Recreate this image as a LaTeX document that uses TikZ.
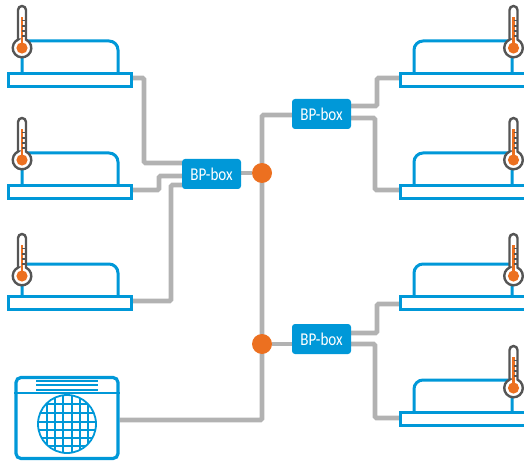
\documentclass[tikz,border=0pt]{standalone}
\usepackage{fontspec}
\setmainfont{Carlito}
\newfontfamily\boxfont[FakeStretch=0.84]{Carlito}
\usetikzlibrary{positioning, calc, backgrounds}
\definecolor{unitblue}{RGB}{0, 152, 216}
\definecolor{pipegray}{RGB}{178, 178, 178}
\definecolor{dotorange}{RGB}{236, 112, 32}
\definecolor{thermogray}{RGB}{85, 85, 85}
\tikzset{
  pipe/.style={draw=pipegray, line width=4.8pt, rounded corners=1.5pt},
  bpbox/.style={fill=unitblue, text=white, rounded corners=3pt, minimum width=59pt, minimum height=30pt, inner sep=0pt, font=\boxfont\fontsize{18}{18}\selectfont},
  joint/.style={circle, fill=dotorange, minimum size=20pt, inner sep=0pt},
  unitline/.style={draw=unitblue, line width=3pt},
  thermometer/.pic={
    \draw[draw=thermogray, fill=white, line width=2.4pt] (-4,8.4) -- (-4,38) arc[start angle=180, end angle=0, radius=4] -- (4,8.4) arc[start angle=64.6, end angle=-244.6, radius=9.3] -- cycle;
    \draw[draw=dotorange, line width=2.4pt] (0,0) -- (0,31);
    \fill[dotorange] (0,0) circle[radius=5.6];
    \foreach \t in {27.4,22,17,12} \draw[draw=thermogray, line width=1.5pt] (0,\t) -- (4,\t);
  },
  indoorleft/.pic={
    \node[unitline, fill=white, minimum width=123pt, minimum height=13pt, inner sep=0pt] (-base) at (63,0) {};
    \draw[unitline] (15,6) -- (15,39) -- (102,39) arc[start angle=90, end angle=0, radius=9] -- (111,6);
  },
  indoorright/.pic={
    \node[unitline, fill=white, minimum width=126pt, minimum height=13pt, inner sep=0pt] (-base) at (63.5,0) {};
    \draw[unitline] (112,6) -- (112,39) -- (23,39) arc[start angle=90, end angle=180, radius=9] -- (14,6);
  }
}

\begin{document}
\begin{tikzpicture}[x=1pt, y=1pt]
  \useasboundingbox (0,0) rectangle (524,461);
  % left units
  \pic (unitA) at (7,381) {indoorleft};
  \pic (unitB) at (7,269) {indoorleft};
  \pic (unitC) at (7,158) {indoorleft};
  % right units
  \pic (unitD) at (400,381) {indoorright};
  \pic (unitE) at (400,269) {indoorright};
  \pic (unitF) at (400,158) {indoorright};
  \pic (unitG) at (400,42) {indoorright};
  % thermometers
  \foreach \y in {413,301,185} \pic at (22,\y) {thermometer};
  \foreach \y in {413,301,185,73} \pic at (513.5,\y) {thermometer};

  \node[bpbox] (boxL) at (211.5,287) {BP-box};
  \node[bpbox] (boxT) at (321.5,347) {BP-box};
  \node[bpbox] (boxB) at (321.5,122) {BP-box};
  \node[joint] (jointT) at (262,288) {};
  \node[joint] (jointB) at (262,117) {};

  % outdoor unit
  \node[draw=unitblue, line width=3.2pt, rounded corners=5pt, minimum width=102pt, minimum height=81pt, inner sep=0pt] (outdoor) at (67,43) {};
  \draw[unitblue, line width=1.8pt] (outdoor.west |- 0,68) -- (outdoor.east |- 0,68);
  \foreach \y in {71,76,80} \draw[unitblue, line width=1.4pt] (36,\y) -- (98,\y);
  \begin{scope}
    \clip (67,37) circle[radius=29];
    \foreach \x in {46.7,55,63,71.7,80,88} \draw[unitblue, line width=1.6pt] (\x,0) -- (\x,80);
    \foreach \y in {57,48,39,31,23,15} \draw[unitblue, line width=1.6pt] (30,\y) -- (110,\y);
  \end{scope}
  \draw[unitblue, line width=1.8pt] (67,37) circle[radius=29];

  % pipes
  \begin{scope}[on background layer]
    \draw[pipe] ([yshift=2pt]unitA-base.east) -- (144,383) |- (boxL.west |- 0,298);
    \draw[pipe] ([yshift=2pt]unitB-base.east) -- (159,271) |- (boxL.west |- 0,285);
    \draw[pipe] ([yshift=2pt]unitC-base.east) -- (171,160) |- (boxL.west |- 0,276);
    \draw[pipe] (boxL.east |- jointT) -- (jointT);
    \draw[pipe] (boxT.west |- 0,346) -- (262,346) -- (262,41) -- (outdoor.east |- 0,41);
    \draw[pipe] (jointB) -- (boxB.west |- jointB);
    \draw[pipe] (boxT.east |- 0,355) -- (377,355) |- (unitD-base.west |- 0,383);
    \draw[pipe] (boxT.east |- 0,343) -- (375,343) |- (unitE-base.west |- 0,271);
    \draw[pipe] (boxB.east |- 0,128) -- (377,128) |- (unitF-base.west |- 0,157);
    \draw[pipe] (boxB.east |- 0,117) -- (375,117) |- (unitG-base.west |- 0,43);
  \end{scope}
\end{tikzpicture}
\end{document}
